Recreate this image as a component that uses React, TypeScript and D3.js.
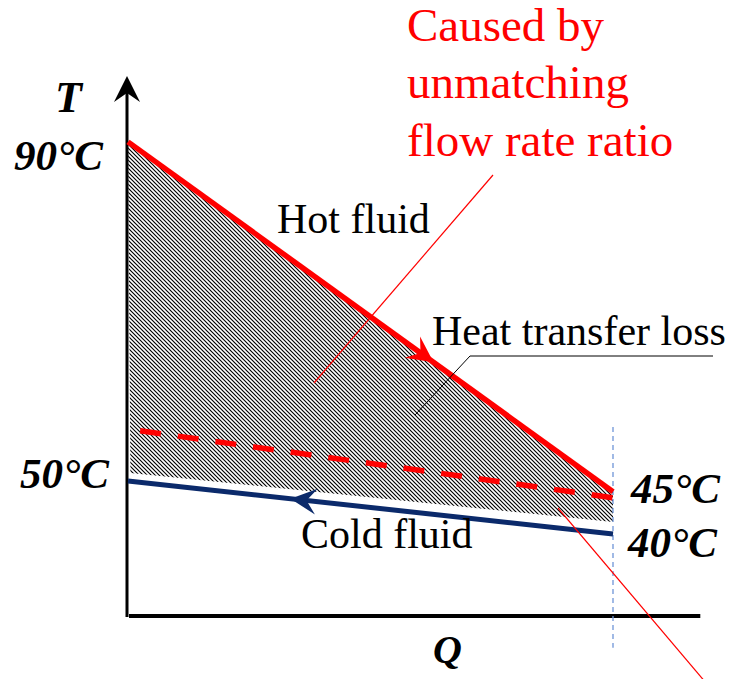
import React from "react";
import * as d3 from "d3";

// Schematic T–Q diagram. Q runs 0..1 across the exchanger, "level" is a schematic temperature position (0..100).
const hotFluid = [
  { q: 0, level: 87.8 },
  { q: 1, level: 23.0 },
];
const coldFluid = [
  { q: 0, level: 25.0 },
  { q: 1, level: 15.2 },
];
const matchedHot = [
  { q: 0.025, level: 34.3 },
  { q: 1, level: 21.9 },
];
const lossLowerEdge = [
  { q: 0.005, level: 26.5 },
  { q: 1, level: 17.4 },
];
const tempLabels = ["90°C", "50°C", "45°C", "40°C"];
const axisLabels = ["T", "Q"];
const curveLabels = ["Hot fluid", "Cold fluid", "Heat transfer loss"];
const causeLines = ["Caused by", "unmatching", "flow rate ratio"];

const W = 734;
const H = 679;
const x = d3.scaleLinear().domain([0, 1]).range([128, 613]);
const y = d3.scaleLinear().domain([0, 100]).range([616, 76]);

type P = { q: number; level: number };
const line = d3
  .line<P>()
  .x((d) => x(d.q))
  .y((d) => y(d.level));

function arrowHead(pts: P[], t: number, dir: 1 | -1, L = 26, Wd = 13) {
  const x0 = x(pts[0].q), y0 = y(pts[0].level);
  const x1 = x(pts[1].q), y1 = y(pts[1].level);
  const tx = x0 + (x1 - x0) * t;
  const ty = y0 + (y1 - y0) * t;
  const len = Math.hypot(x1 - x0, y1 - y0);
  const ux = ((x1 - x0) / len) * dir;
  const uy = ((y1 - y0) / len) * dir;
  const nx = -uy, ny = ux;
  const b1 = [tx - L * ux + Wd * nx, ty - L * uy + Wd * ny];
  const b2 = [tx - L * ux - Wd * nx, ty - L * uy - Wd * ny];
  const nb = [tx - 0.62 * L * ux, ty - 0.62 * L * uy];
  return `M${tx},${ty}L${b1[0]},${b1[1]}L${nb[0]},${nb[1]}L${b2[0]},${b2[1]}Z`;
}

const serif = "'Liberation Serif', 'Times New Roman', serif";

export default function App() {
  const lossArea = [...hotFluid, ...[...lossLowerEdge].reverse()];
  const areaPath =
    "M" +
    lossArea.map((d) => `${x(d.q)},${y(d.level)}`).join("L") +
    "Z";
  const hotColor = "#ff0000";
  const coldColor = "#0b2a6b";
  const axisTop = y(100);
  return (
    <svg width={W} height={H} style={{ position: "absolute", left: 0, top: 0, background: "#fff" }}>
      <defs>
        <pattern id="hatch" width={4} height={4} patternUnits="userSpaceOnUse">
          <path d="M-1,-1L5,5M-1,3L1,5M3,-1L5,1" stroke="#000" strokeWidth={1.15} />
        </pattern>
      </defs>
      {/* heat transfer loss area */}
      <path d={areaPath} fill="url(#hatch)" stroke="none" />

      {/* axes */}
      <line x1={127} x2={127} y1={y(0) + 1} y2={axisTop + 12} stroke="#000" strokeWidth={3} />
      <path
        d={`M127,${axisTop}L140,${axisTop + 26}L127,${axisTop + 17}L114,${axisTop + 26}Z`}
        fill="#000"
      />
      <line x1={129} x2={x(1.18)} y1={y(0)} y2={y(0)} stroke="#000" strokeWidth={4} />

      {/* vertical dashed boundary */}
      <line
        x1={x(1)}
        x2={x(1)}
        y1={y(35)}
        y2={y(-5.9)}
        stroke="#6f95d8"
        strokeWidth={1.3}
        strokeDasharray="5,4"
      />

      {/* lines */}
      <path d={line(hotFluid) ?? ""} stroke={hotColor} strokeWidth={5.5} fill="none" />
      <path d={line(coldFluid) ?? ""} stroke={coldColor} strokeWidth={5} fill="none" />
      <path
        d={line(matchedHot) ?? ""}
        stroke={hotColor}
        strokeWidth={5.5}
        fill="none"
        strokeDasharray="21,17"
      />
      <path d={arrowHead(hotFluid, 0.63, 1)} fill={hotColor} />
      <path d={arrowHead(coldFluid, 0.335, -1)} fill={coldColor} />

      {/* leader lines */}
      <line x1={493} y1={175} x2={314} y2={383} stroke={hotColor} strokeWidth={1.2} />
      <line x1={558} y1={508} x2={712} y2={690} stroke={hotColor} strokeWidth={1.2} />
      <polyline points="713,356 470,356 415,415" fill="none" stroke="#000" strokeWidth={1} />

      {/* text */}
      <g fontFamily={serif} fontWeight="bold" fontStyle="italic" fontSize={43} fill="#000">
        <text x={55} y={112} fontSize={44}>{axisLabels[0]}</text>
        <text x={433} y={663} fontSize={40}>{axisLabels[1]}</text>
        <text x={14} y={170}>{tempLabels[0]}</text>
        <text x={20} y={488}>{tempLabels[1]}</text>
        <text x={631} y={503}>{tempLabels[2]}</text>
        <text x={628} y={557}>{tempLabels[3]}</text>
      </g>
      <g fontFamily={serif} fontSize={42} fill="#000">
        <text x={277} y={233}>{curveLabels[0]}</text>
        <text x={301} y={548}>{curveLabels[1]}</text>
        <text x={432} y={345}>{curveLabels[2]}</text>
      </g>
      <g fontFamily={serif} fontSize={47} fill={hotColor}>
        {causeLines.map((s, i) => (
          <text key={s} x={407} y={41 + i * 57.3}>
            {s}
          </text>
        ))}
      </g>
    </svg>
  );
}
